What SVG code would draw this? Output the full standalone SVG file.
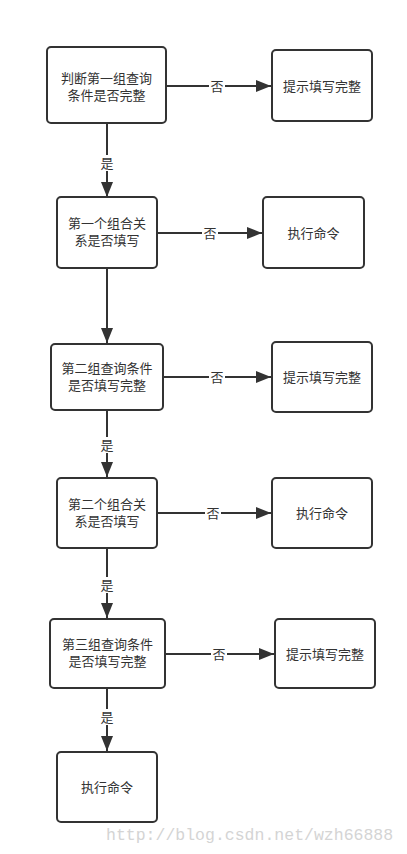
<svg xmlns="http://www.w3.org/2000/svg" width="407" height="854" viewBox="0 0 407 854">
<style>
.box{fill:#fff;stroke:#333;stroke-width:2}
.t{font-family:"Noto Sans CJK SC","Liberation Sans",sans-serif;font-size:13px;fill:#333;text-anchor:middle}
.e{stroke:#333;stroke-width:2;fill:none;marker-end:url(#ah)}
.lb{fill:#fff}
.wm{font-family:"Liberation Mono",monospace;font-size:16.5px;fill:#d4d4d4}
</style>
<defs>
<marker id="ah" markerUnits="userSpaceOnUse" markerWidth="16" markerHeight="12" refX="15" refY="6" orient="auto">
<path d="M0,0 L15,6 L0,12 Z" fill="#333"/>
</marker>
</defs>
<rect width="407" height="854" fill="#fff"/>
<g id="connectors">
<path class="e" d="M166,86 H271"/>
<path class="e" d="M107,123 V197"/>
<path class="e" d="M157,233 H262"/>
<path class="e" d="M107,268 V343"/>
<path class="e" d="M163,377 H271"/>
<path class="e" d="M107,410 V477"/>
<path class="e" d="M157,513 H271"/>
<path class="e" d="M107,548 V618"/>
<path class="e" d="M165,654 H274"/>
<path class="e" d="M107,688 V751"/>
<rect class="lb" x="209" y="78" width="16" height="16"/>
<text class="t" x="217" y="91">否</text>
<rect class="lb" x="99" y="155" width="16" height="16"/>
<text class="t" x="107" y="168">是</text>
<rect class="lb" x="202" y="225" width="16" height="16"/>
<text class="t" x="210" y="238">否</text>
<rect class="lb" x="209" y="369" width="16" height="16"/>
<text class="t" x="217" y="382">否</text>
<rect class="lb" x="99" y="437" width="16" height="16"/>
<text class="t" x="107" y="450">是</text>
<rect class="lb" x="205" y="505" width="16" height="16"/>
<text class="t" x="213" y="518">否</text>
<rect class="lb" x="99" y="577" width="16" height="16"/>
<text class="t" x="107" y="590">是</text>
<rect class="lb" x="211" y="646" width="16" height="16"/>
<text class="t" x="219" y="659">否</text>
<rect class="lb" x="99" y="709" width="16" height="16"/>
<text class="t" x="107" y="722">是</text>
</g>
<g id="n1"><rect class="box" x="47" y="47" width="119" height="76" rx="4"/>
<text class="t"><tspan x="106.5" y="83">判断第一组查询</tspan><tspan x="106.5" y="100">条件是否完整</tspan></text></g>
<g id="n2"><rect class="box" x="272" y="50" width="100" height="71" rx="4"/>
<text class="t" x="322" y="91">提示填写完整</text></g>
<g id="n3"><rect class="box" x="57" y="197" width="100" height="71" rx="4"/>
<text class="t"><tspan x="107" y="228">第一个组合关</tspan><tspan x="107" y="245">系是否填写</tspan></text></g>
<g id="n4"><rect class="box" x="263" y="197" width="101" height="71" rx="4"/>
<text class="t" x="313.5" y="238">执行命令</text></g>
<g id="n5"><rect class="box" x="51" y="344" width="112" height="66" rx="4"/>
<text class="t"><tspan x="107" y="373">第二组查询条件</tspan><tspan x="107" y="390">是否填写完整</tspan></text></g>
<g id="n6"><rect class="box" x="272" y="342" width="100" height="70" rx="4"/>
<text class="t" x="322" y="382">提示填写完整</text></g>
<g id="n7"><rect class="box" x="57" y="478" width="100" height="70" rx="4"/>
<text class="t"><tspan x="107" y="509">第二个组合关</tspan><tspan x="107" y="526">系是否填写</tspan></text></g>
<g id="n8"><rect class="box" x="272" y="478" width="100" height="70" rx="4"/>
<text class="t" x="322" y="518">执行命令</text></g>
<g id="n9"><rect class="box" x="50" y="619" width="115" height="69" rx="4"/>
<text class="t"><tspan x="107.5" y="649">第三组查询条件</tspan><tspan x="107.5" y="666">是否填写完整</tspan></text></g>
<g id="n10"><rect class="box" x="275" y="619" width="100" height="69" rx="4"/>
<text class="t" x="325" y="659">提示填写完整</text></g>
<g id="n11"><rect class="box" x="57" y="752" width="100" height="70" rx="4"/>
<text class="t" x="107" y="792">执行命令</text></g>
<text class="wm" x="106" y="840">http://blog.csdn.net/wzh66888</text>
</svg>
